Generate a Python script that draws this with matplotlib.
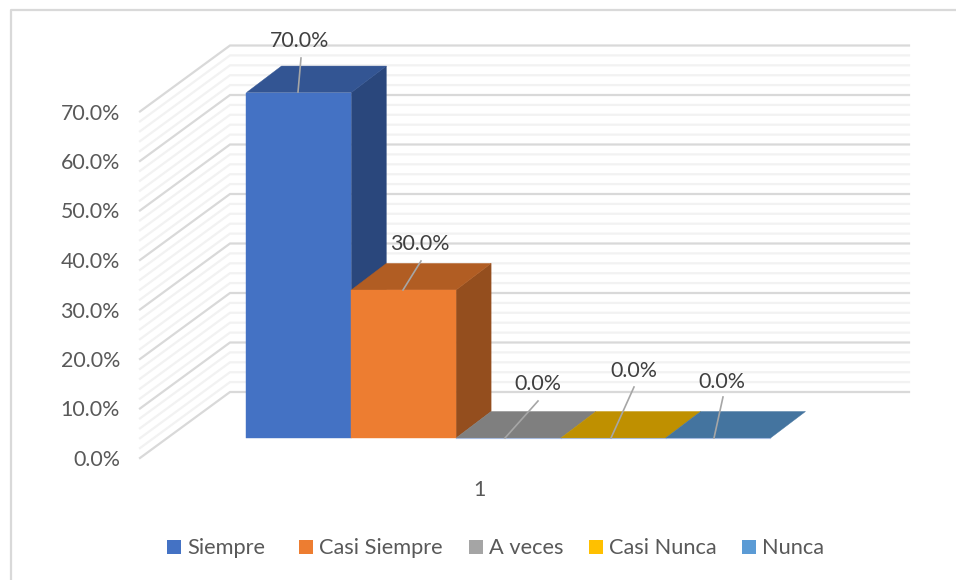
import matplotlib
matplotlib.use("Agg")
import matplotlib.pyplot as plt
from matplotlib.patches import Polygon, Rectangle

categories = ["Siempre", "Casi Siempre", "A veces", "Casi Nunca", "Nunca"]
values = [70.0, 30.0, 0.0, 0.0, 0.0]
front_colors = ["#4472c4", "#ed7d31", "#a5a5a5", "#ffc000", "#5b9bd5"]
top_colors = ["#335593", "#b15d23", "#7f7f7f", "#bf9000", "#44749f"]
side_colors = ["#2a477c", "#944e1e", "#6a6a6a", "#9f7800", "#3a6186"]
ticks = [0, 10, 20, 30, 40, 50, 60, 70]
category_label = "1"

# label text position and leader line end, in pixels
label_pos = [(300, 41), (420, 244), (538, 384), (634, 371), (722, 382)]
leader_top = [(301, 58), (421, 261), (538, 401), (634, 387), (723, 397)]
leader_bottom = [(298, 92), (403, 290), (505, 438), (611, 438), (714, 438)]

legend_box = [167, 299, 469, 589, 742]
legend_text = [187, 319, 489, 609, 762]

PX = 4.95  # pixels per percent, walls
BAR_PX = 4.935  # bars sit a little further back
bar_w = 104.8
bar_left = 246.5
base_y = 438
dx, dy = 35, -26.5
FONT = "Lato"


def val_y(v, y0, k=PX):
    return y0 - v * k


fig = plt.figure(figsize=(9.56, 5.80), dpi=100)
ax = fig.add_axes([0, 0, 1, 1])
ax.set_xlim(0, 956)
ax.set_ylim(580, 0)
ax.axis("off")

# chart border
ax.plot([956, 11, 11], [9.5, 9.5, 580], color="#d9d9d9", lw=1.6, zorder=1)

# minor then major gridlines on the side wall and back wall
for v in range(0, 71, 2):
    if v % 10 == 0:
        continue
    ax.plot([140, 230, 909], [val_y(v, 458), val_y(v, 392), val_y(v, 392)],
            color="#f2f2f2", lw=1.6, solid_joinstyle="miter", zorder=1)
for t in ticks:
    ax.plot([140, 230, 909], [val_y(t, 458), val_y(t, 392), val_y(t, 392)],
            color="#d9d9d9", lw=1.6, solid_joinstyle="miter", zorder=1)
    ax.text(120, val_y(t, 458) + 2, "%.1f%%" % t, ha="right", va="center",
            fontsize=15.4, family=FONT, color="#595959")

# bars, left to right
for i, v in enumerate(values):
    x0 = bar_left + i * bar_w
    x1 = x0 + bar_w
    top = val_y(v, base_y, BAR_PX)
    if v > 0:
        ax.add_patch(Polygon([(x1, top), (x1 + dx, top + dy), (x1 + dx, base_y + dy), (x1, base_y)],
                             closed=True, fc=side_colors[i], ec=side_colors[i], lw=0.3, zorder=3))
    ax.add_patch(Polygon([(x0, top), (x0 + dx, top + dy), (x1 + dx, top + dy), (x1, top)],
                         closed=True, fc=top_colors[i], ec=top_colors[i], lw=0.3, zorder=3))
    if v > 0:
        ax.add_patch(Rectangle((x0, top), bar_w, v * BAR_PX, fc=front_colors[i],
                               ec=front_colors[i], lw=0.3, zorder=4))
    else:
        ax.plot([x0, x1], [base_y, base_y], color="#8faadc", lw=0.8, alpha=0.7, zorder=4)

# data labels with leader lines
for i, v in enumerate(values):
    ax.plot([leader_top[i][0], leader_bottom[i][0]], [leader_top[i][1], leader_bottom[i][1]],
            color="#a6a6a6", lw=1.2, zorder=5)
    ax.text(label_pos[i][0], label_pos[i][1], "%.1f%%" % v, ha="center", va="center",
            fontsize=15.4, family=FONT, color="#404040", zorder=6)

ax.text(479, 490, category_label, ha="center", va="center", fontsize=15.4, family=FONT, color="#595959")

# legend
for i, c in enumerate(categories):
    ax.add_patch(Rectangle((legend_box[i], 540), 14, 14, fc=front_colors[i], ec="none"))
    ax.text(legend_text[i], 548, c, ha="left", va="center", fontsize=15.7, family=FONT, color="#595959")

fig.savefig("out.png", dpi=100)
